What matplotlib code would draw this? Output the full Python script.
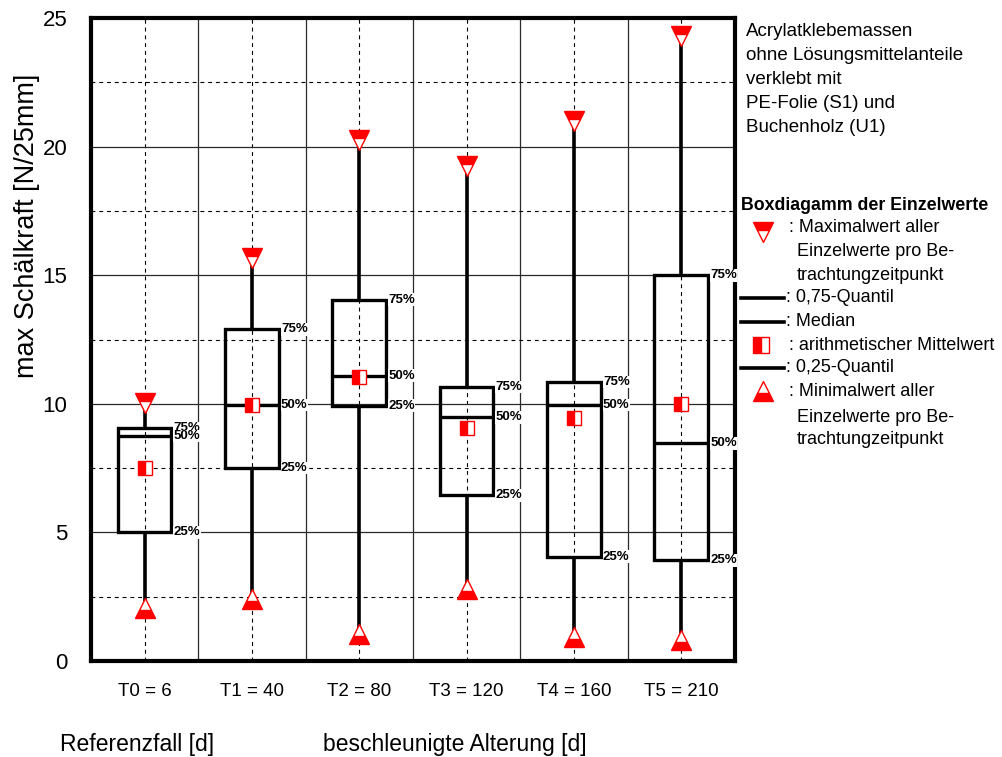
import matplotlib

matplotlib.use("Agg")
import matplotlib.pyplot as plt
import numpy as np
from matplotlib.lines import Line2D
from matplotlib.patches import Rectangle

plt.rcParams["font.family"] = ["Liberation Sans", "DejaVu Sans"]

# Peel strength per test time point [N/25mm]
categories = ["T0 = 6", "T1 = 40", "T2 = 80", "T3 = 120", "T4 = 160", "T5 = 210"]
max_values = [10.05, 15.65, 20.25, 19.25, 21.0, 24.3]
q3_values = [9.05, 12.9, 14.05, 10.65, 10.85, 15.0]
median_values = [8.75, 9.95, 11.1, 9.48, 9.95, 8.46]
mean_values = [7.5, 9.95, 11.03, 9.05, 9.45, 10.0]
q1_values = [5.0, 7.5, 9.93, 6.45, 4.05, 3.92]
min_values = [2.05, 2.4, 1.05, 2.8, 0.95, 0.82]

y_ticks = [0, 5, 10, 15, 20, 25]

info_lines = [
    "Acrylatklebemassen",
    "ohne Lösungsmittelanteile",
    "verklebt mit",
    "PE-Folie (S1) und",
    "Buchenholz (U1)",
]

RED = "#ff0000"
FIG_W, FIG_H = 1003, 757


def draw_boxes(ax):
    x = np.arange(len(categories)) + 0.5
    half = 0.25

    # whiskers outside the box
    ax.vlines(x, min_values, q1_values, color="black", lw=2.6, zorder=3)
    ax.vlines(x, q3_values, max_values, color="black", lw=2.6, zorder=3)

    for xi, lo, hi, med in zip(x, q1_values, q3_values, median_values):
        ax.add_patch(Rectangle((xi - half, lo), 2 * half, hi - lo,
                               fill=False, ec="black", lw=2.4, zorder=3))
        ax.hlines(med, xi - half, xi + half, color="black", lw=2.4, zorder=3)

    ax.plot(x, max_values, ls="none", marker="v", ms=14.5, fillstyle="top",
            mfc=RED, markerfacecoloralt="white", mec=RED, mew=1.0, zorder=5)
    ax.plot(x, min_values, ls="none", marker="^", ms=14.5, fillstyle="bottom",
            mfc=RED, markerfacecoloralt="white", mec=RED, mew=1.0, zorder=5)
    ax.plot(x, mean_values, ls="none", marker="s", ms=10, fillstyle="left",
            mfc=RED, markerfacecoloralt="white", mec=RED, mew=1.0, zorder=5)

    label_box = dict(facecolor="white", edgecolor="none", pad=0.3)
    for xi, q3, med, q1 in zip(x, q3_values, median_values, q1_values):
        for val, txt in ((q3, "75%"), (med, "50%"), (q1, "25%")):
            ax.text(xi + half + 0.02, val, txt, fontsize=9.5, fontweight="bold",
                    ha="left", va="center", bbox=label_box, zorder=6,
                    clip_on=False)


def style_axes(ax):
    ax.set_xlim(0, len(categories))
    ax.set_ylim(0, 25)

    ax.set_xticks(np.arange(len(categories)) + 0.5)
    ax.set_xticklabels(categories, fontsize=13.5)
    ax.set_xticks(np.arange(1, len(categories)), minor=True)
    ax.set_yticks(y_ticks)
    ax.set_yticklabels([str(t) for t in y_ticks], fontsize=16)
    ax.set_yticks(np.arange(2.5, 25, 5), minor=True)

    ax.tick_params(which="both", length=0)
    ax.tick_params(axis="x", pad=16)
    ax.tick_params(axis="y", pad=17)

    dashed = dict(color="black", lw=0.8, ls=(0, (3.5, 3.5)))
    solid = dict(color="#2a2a2a", lw=0.9, ls="-")
    ax.grid(which="major", axis="x", **dashed)
    ax.grid(which="minor", axis="x", **solid)
    ax.grid(which="major", axis="y", **solid)
    ax.grid(which="minor", axis="y", **dashed)
    ax.set_axisbelow(True)

    for spine in ax.spines.values():
        spine.set_linewidth(3.0)


def draw_side_notes(fig):
    # overlay in pixel units for the free-standing texts and the key
    over = fig.add_axes([0, 0, 1, 1], zorder=10)
    over.set_xlim(0, FIG_W)
    over.set_ylim(FIG_H, 0)
    over.axis("off")

    over.text(27, 226, "max Schälkraft [N/25mm]", rotation=90,
              ha="center", va="center", fontsize=19.5)
    over.text(60, 745, "Referenzfall [d]", ha="left", va="center", fontsize=16.5)
    over.text(323, 745, "beschleunigte Alterung [d]", ha="left",
              va="center", fontsize=16.5)

    for i, line in enumerate(info_lines):
        over.text(746, 31 + i * 24, line, ha="left", va="center", fontsize=13.5)

    over.text(741, 205, "Boxdiagamm der Einzelwerte", ha="left",
              va="center", fontsize=12.8, fontweight="bold")

    over.plot([763], [232], ls="none", marker="v", ms=15, fillstyle="top",
              mfc=RED, markerfacecoloralt="white", mec=RED, mew=1.0)
    over.plot([761], [345], ls="none", marker="s", ms=11, fillstyle="left",
              mfc=RED, markerfacecoloralt="white", mec=RED, mew=1.0)
    over.plot([763], [391], ls="none", marker="^", ms=15, fillstyle="bottom",
              mfc=RED, markerfacecoloralt="white", mec=RED, mew=1.0)
    for y in (298, 322, 368):
        over.add_line(Line2D([741, 784], [y, y], color="black", lw=2.6))

    key_rows = [
        (789, 228, ": Maximalwert aller"),
        (797, 252, "Einzelwerte pro Be-"),
        (797, 275, "trachtungzeitpunkt"),
        (786, 298, ": 0,75-Quantil"),
        (786, 322, ": Median"),
        (789, 345, ": arithmetischer Mittelwert"),
        (786, 368, ": 0,25-Quantil"),
        (789, 392, ": Minimalwert aller"),
        (797, 417, "Einzelwerte pro Be-"),
        (797, 440, "trachtungzeitpunkt"),
    ]
    for x, y, txt in key_rows:
        over.text(x, y, txt, ha="left", va="center", fontsize=13)


def main():
    fig = plt.figure(figsize=(FIG_W / 100, FIG_H / 100), dpi=100)
    ax = fig.add_axes([91 / FIG_W, (FIG_H - 661) / FIG_H,
                       644 / FIG_W, 643 / FIG_H])
    style_axes(ax)
    draw_boxes(ax)
    draw_side_notes(fig)
    fig.savefig("out.png", dpi=100)
    plt.close(fig)


if __name__ == "__main__":
    main()
